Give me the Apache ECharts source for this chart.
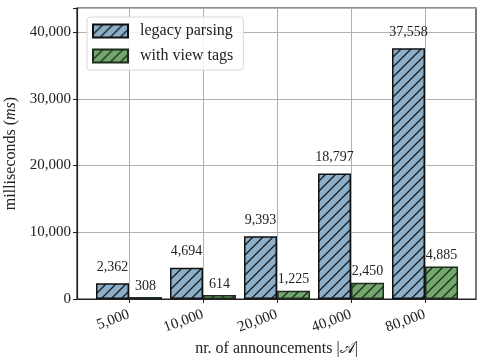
<!DOCTYPE html>
<html>
<head>
<meta charset="utf-8">
<script src="https://cdn.jsdelivr.net/npm/echarts@6/dist/echarts.min.js"></script>
<style>
  html, body { margin: 0; padding: 0; background: #fff; }
  #chart { width: 485px; height: 363px; }
</style>
</head>
<body>
<div id="chart"></div>
<script>
// announcements per run
var categories = ['5,000', '10,000', '20,000', '40,000', '80,000'];
var legacy = [2362, 4694, 9393, 18797, 37558];
var viewTags = [308, 614, 1225, 2450, 4885];
var yTicks = [0, 10000, 20000, 30000, 40000];

var FONT = '"Liberation Serif", "DejaVu Serif", serif';

function hatch(bg, line) {
    var c = document.createElement('canvas');
    c.width = 10; c.height = 10;
    var ctx = c.getContext('2d');
    ctx.fillStyle = bg;
    ctx.fillRect(0, 0, 10, 10);
    ctx.strokeStyle = line;
    ctx.lineWidth = 1.3;
    ctx.beginPath();
    ctx.moveTo(-1, 11); ctx.lineTo(11, -1);
    ctx.moveTo(-6, 6); ctx.lineTo(6, -6);
    ctx.moveTo(4, 16); ctx.lineTo(16, 4);
    ctx.stroke();
    return c;
}

function fmt(v) { return Number(v).toLocaleString('en-US'); }

var idx = categories.map(function (c, i) { return i; });

var chartDom = document.getElementById('chart');
var myChart = echarts.init(chartDom);
var option;

option = {
    animation: false,
    textStyle: { fontFamily: FONT },
    grid: {
        left: 77, right: 9, top: 8, bottom: 64,
        outerBoundsMode: 'none', containLabel: false,
        show: true, borderColor: '#222', borderWidth: 1.2
    },
    legend: {
        left: 87, top: 17,
        orient: 'vertical',
        icon: 'rect',
        itemWidth: 35, itemHeight: 13, itemGap: 9,
        padding: [6, 10, 6, 5],
        borderColor: '#d8d8d8', borderWidth: 1, borderRadius: 3,
        backgroundColor: 'rgba(255,255,255,0.85)',
        textStyle: { fontFamily: FONT, fontSize: 16, color: '#222', padding: [0, 0, 0, 7] }
    },
    xAxis: {
        type: 'value',
        min: -0.703, max: 4.689,
        name: 'nr. of announcements |𝒜|',
        nameLocation: 'middle', nameGap: 38,
        nameTextStyle: { fontFamily: FONT, fontSize: 16, color: '#222' },
        axisLine: { show: true, onZero: false, lineStyle: { color: '#222', width: 1.2 } },
        axisTick: { show: true, customValues: idx, length: 4, lineStyle: { color: '#222' } },
        axisLabel: {
            customValues: idx, rotate: 20, margin: 15,
            fontFamily: FONT, fontSize: 15, color: '#222',
            formatter: function (v) { return categories[Math.round(v)]; }
        },
        splitLine: { show: true, lineStyle: { color: '#b0b0b0', width: 1 } }
    },
    yAxis: {
        type: 'value',
        min: 0, max: 43600, interval: 10000,
        name: 'milliseconds ({i|ms})',
        nameLocation: 'middle', nameGap: 52,
        nameTextStyle: {
            fontFamily: FONT, fontSize: 16, color: '#222',
            rich: { i: { fontFamily: FONT, fontSize: 16, fontStyle: 'italic', color: '#222' } }
        },
        axisLine: { show: true, onZero: false, lineStyle: { color: '#222', width: 1.2 } },
        axisTick: { show: true, length: 4, lineStyle: { color: '#222' } },
        axisLabel: {
            fontFamily: FONT, fontSize: 15, color: '#222', margin: 6,
            formatter: function (v) { return yTicks.indexOf(v) >= 0 ? fmt(v) : ''; }
        },
        splitLine: { show: true, lineStyle: { color: '#b0b0b0', width: 1 } }
    },
    series: [
        {
            name: 'legacy parsing',
            type: 'bar',
            barWidth: 33, barGap: '0%',
            data: legacy.map(function (v, i) { return [i, v]; }),
            itemStyle: {
                color: { image: hatch('#8bafc9', '#1a1a1a'), repeat: 'repeat' },
                borderColor: '#111', borderWidth: 1.5
            },
            label: {
                show: true, position: 'top', distance: 9,
                fontFamily: FONT, fontSize: 14, color: '#222',
                formatter: function (p) { return fmt(p.value[1]); }
            }
        },
        {
            name: 'with view tags',
            type: 'bar',
            barWidth: 33, barGap: '0%',
            data: viewTags.map(function (v, i) { return [i, v]; }),
            itemStyle: {
                color: { image: hatch('#72a86c', '#1d2a1d'), repeat: 'repeat' },
                borderColor: '#1f2a1f', borderWidth: 1.5
            },
            label: {
                show: true, position: 'top', distance: 4,
                fontFamily: FONT, fontSize: 14, color: '#222',
                formatter: function (p) { return fmt(p.value[1]); }
            }
        }
    ]
};

option && myChart.setOption(option);
</script>
</body>
</html>
